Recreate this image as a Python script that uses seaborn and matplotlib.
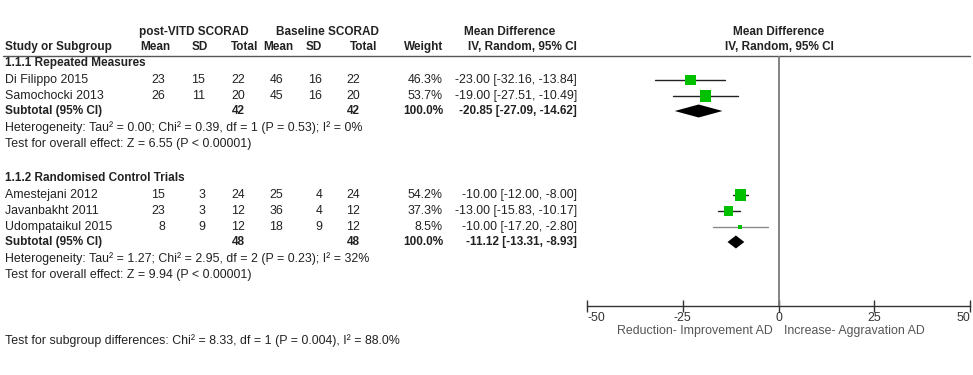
import numpy as np
import pandas as pd
import matplotlib.pyplot as plt
import seaborn as sns

# study level data
studies = ["Di Filippo 2015", "Samochocki 2013", "Amestejani 2012", "Javanbakht 2011", "Udompataikul 2015"]
group = [0, 0, 1, 1, 1]
post_mean = [23, 26, 15, 23, 8]
post_sd = [15, 11, 3, 3, 9]
post_n = [22, 20, 24, 12, 12]
base_mean = [46, 45, 25, 36, 18]
base_sd = [16, 16, 4, 4, 9]
base_n = [22, 20, 24, 12, 12]
weights = [46.3, 53.7, 54.2, 37.3, 8.5]
md = [-23.00, -19.00, -10.00, -13.00, -10.00]
ci_lo = [-32.16, -27.51, -12.00, -15.83, -17.20]
ci_hi = [-13.84, -10.49, -8.00, -10.17, -2.80]

# subgroup summaries
subgroups = ["1.1.1 Repeated Measures", "1.1.2 Randomised Control Trials"]
sub_md = [-20.85, -11.12]
sub_lo = [-27.09, -13.31]
sub_hi = [-14.62, -8.93]
sub_post_n = [42, 48]
sub_base_n = [42, 48]
tau2 = [0.00, 1.27]
chi2 = [0.39, 2.95]
het_df = [1, 2]
het_p = [0.53, 0.23]
i2 = [0, 32]
z_val = [6.55, 9.94]
sub_test = "Test for subgroup differences: Chi² = 8.33, df = 1 (P = 0.004), I² = 88.0%"

x_ticks = [-50, -25, 0, 25, 50]
left_label = "Reduction- Improvement AD"
right_label = "Increase- Aggravation AD"

df = pd.DataFrame({"study": studies, "group": group, "md": md, "lo": ci_lo, "hi": ci_hi, "w": weights})

sns.set_theme(style="white")
plt.rcParams['font.family'] = ['Liberation Sans', 'DejaVu Sans']

W, H = 973, 375
fig = plt.figure(figsize=(W / 100, H / 100), dpi=100)
tab = fig.add_axes([0, 0, 1, 1])
tab.set_xlim(0, W)
tab.set_ylim(H, 0)
tab.axis("off")

txt = "#222222"
fs = 8.9
fs_b = 8.5

def t(x, y, s, ha="right", bold=False, color=txt):
    tab.text(x, y, s, ha=ha, va="center", fontsize=fs_b if bold else fs, color=color,
             fontweight="bold" if bold else "normal")

# header
t(194, 32, "post-VITD SCORAD", ha="center", bold=True)
t(327, 32, "Baseline SCORAD", ha="center", bold=True)
t(510, 32, "Mean Difference", ha="center", bold=True)
t(779, 32, "Mean Difference", ha="center", bold=True)
t(5, 47, "Study or Subgroup", ha="left", bold=True)
for x, s in zip([170, 208, 258, 293, 322, 377, 443, 577],
                ["Mean", "SD", "Total", "Mean", "SD", "Total", "Weight", "IV, Random, 95% CI"]):
    t(x, 47, s, bold=True)
t(779, 47, "IV, Random, 95% CI", ha="center", bold=True)
tab.plot([3, 970], [55.5, 55.5], color="#555555", lw=1)

cols = [165, 205, 245, 283, 322, 360]

# row positions
group_top = [63, 178]
row_y = {}
sub_y = []
for g in range(2):
    y0 = group_top[g]
    t(5, y0, subgroups[g], ha="left", bold=True)
    idx = [i for i in range(len(studies)) if group[i] == g]
    y = y0
    for k, i in enumerate(idx):
        y = y0 + 17 + 16 * k
        row_y[i] = y
        t(5, y, studies[i], ha="left")
        for x, v in zip(cols, [post_mean[i], post_sd[i], post_n[i], base_mean[i], base_sd[i], base_n[i]]):
            t(x, y, str(v))
        t(443, y, f"{weights[i]:.1f}%")
        t(577, y, f"{md[i]:.2f} [{ci_lo[i]:.2f}, {ci_hi[i]:.2f}]")
    ys = y + 15
    sub_y.append(ys)
    t(5, ys, "Subtotal (95% CI)", ha="left", bold=True)
    t(cols[2], ys, str(sub_post_n[g]), bold=True)
    t(cols[5], ys, str(sub_base_n[g]), bold=True)
    t(443, ys, "100.0%", bold=True)
    t(577, ys, f"{sub_md[g]:.2f} [{sub_lo[g]:.2f}, {sub_hi[g]:.2f}]", bold=True)
    t(5, ys + 17, f"Heterogeneity: Tau² = {tau2[g]:.2f}; Chi² = {chi2[g]:.2f}, df = {het_df[g]} "
                  f"(P = {het_p[g]:.2f}); I² = {i2[g]}%", ha="left")
    t(5, ys + 33, f"Test for overall effect: Z = {z_val[g]:.2f} (P < 0.00001)", ha="left")

t(5, 341, sub_test, ha="left")

# forest panel
x0, x1, ytop, ybot = 587, 970, 56, 306
fax = fig.add_axes([x0 / W, (H - ybot) / H, (x1 - x0) / W, (ybot - ytop) / H])
fax.set_xlim(-50, 50)
fax.set_ylim(ybot, ytop)
fax.patch.set_alpha(0)
for s in ["top", "left", "right"]:
    fax.spines[s].set_visible(False)
fax.spines["bottom"].set_color("#333333")
fax.spines["bottom"].set_linewidth(1)
fax.set_xticks(x_ticks)
fax.set_xticklabels([str(v) for v in x_ticks])
fax.tick_params(axis="x", direction="inout", length=8, width=1, color="#333333",
                labelsize=fs, labelcolor="#333333", pad=0, bottom=True)
fax.set_yticks([])
tl = fax.get_xticklabels()
tl[0].set_ha("left")
tl[-1].set_ha("right")

fax.axvline(0, color="#7a7a7a", lw=1.3, zorder=1)

df["y"] = [row_y[i] for i in range(len(studies))]
for _, r in df.iterrows():
    fax.plot([r.lo, r.hi], [r.y, r.y], color="#8a8a8a" if r.w < 10 else "#222222", lw=1, zorder=2)
sns.scatterplot(data=df, x="md", y="y", size="w", sizes=(1.17 * min(weights), 1.17 * max(weights)),
                size_norm=(min(weights), max(weights)), marker="s", color="#00c000",
                linewidth=0, legend=False, ax=fax, zorder=3)
fax.set_xlabel("")
fax.set_ylabel("")

for g in range(2):
    yc = sub_y[g]
    fax.fill([sub_lo[g], sub_md[g], sub_hi[g], sub_md[g]], [yc, yc - 6.5, yc, yc + 6.5],
             color="black", lw=0, zorder=3)

tab.text(773, 331, left_label, ha="right", va="center", fontsize=fs, color="#555555")
tab.text(784, 331, right_label, ha="left", va="center", fontsize=fs, color="#555555")

fig.savefig("out.png", dpi=100)
